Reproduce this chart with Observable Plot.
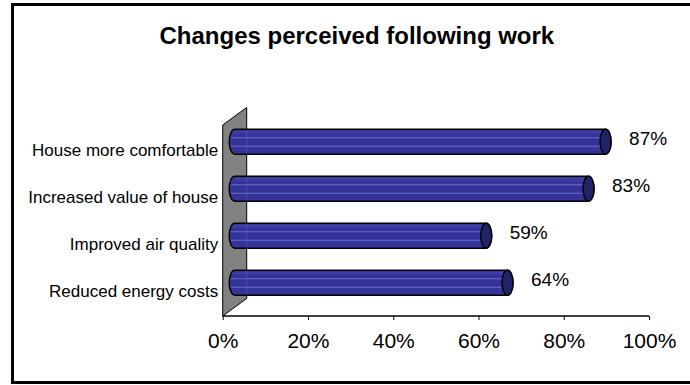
<!DOCTYPE html>
<html><head><meta charset="utf-8">
<script src="https://cdn.jsdelivr.net/npm/d3@7"></script>
<script src="https://cdn.jsdelivr.net/npm/@observablehq/plot@0.6"></script>
<style>
html,body{margin:0;padding:0;background:#fff;}
#wrap{position:relative;width:690px;height:385px;overflow:hidden;}
#border{position:absolute;left:11px;top:3px;width:700px;height:381px;border:3px solid #000;box-sizing:border-box;pointer-events:none;}
</style></head><body>
<div id="wrap"><div id="border"></div></div>
<script>
const title = "Changes perceived following work";
const categories = ["House more comfortable", "Increased value of house", "Improved air quality", "Reduced energy costs"];
const values = [0.87, 0.83, 0.59, 0.64];
const xTicks = [0, 0.2, 0.4, 0.6, 0.8, 1];

const data = categories.map((c, i) => ({category: c, value: values[i]}));
const depth = {dx: 24, dy: -17.5};

function scene(index, scales, vals, dimensions) {
  const {x, y} = scales;
  const {height, marginTop, marginBottom} = dimensions;
  const g = d3.create("svg:g");
  const x0 = x(0);
  const yTop = marginTop, yBot = height - marginBottom;
  // back wall
  g.append("polygon")
    .attr("points", [[x0, yBot], [x0, yTop], [x0 + depth.dx, yTop + depth.dy], [x0 + depth.dx, yBot + depth.dy]].map(p => p.join(",")).join(" "))
    .attr("fill", "#828282").attr("stroke", "#000").attr("stroke-width", 1);
  // axis line
  g.append("line").attr("x1", x0).attr("x2", x(1)).attr("y1", yBot).attr("y2", yBot)
    .attr("stroke", "#000").attr("stroke-width", 1.5);
  const bw = y.bandwidth ? y.bandwidth() : (yBot - yTop) / categories.length;
  const r = 12.5, rx = 5.5;
  for (const d of data) {
    const cy = y(d.category) + bw / 2 + depth.dy / 2;
    const cx0 = x0 + depth.dx / 2;
    const cx1 = x(d.value) + depth.dx / 2;
    const bar = g.append("g");
    const outline = `M${cx0},${cy - r}L${cx1},${cy - r}A${rx},${r} 0 0 1 ${cx1},${cy + r}L${cx0},${cy + r}A${rx},${r} 0 0 1 ${cx0},${cy - r}Z`;
    bar.append("path").attr("d", outline).attr("fill", "#333399");
    bar.append("line").attr("x1", cx0 - 3).attr("x2", cx1).attr("y1", cy - r + 3).attr("y2", cy - r + 3)
      .attr("stroke", "#3d3da6").attr("stroke-width", 3);
    for (const off of [-4, 4.5]) {
      bar.append("line").attr("x1", cx0 - 4).attr("x2", cx1).attr("y1", cy + off).attr("y2", cy + off)
        .attr("stroke", "#6e6ec4").attr("stroke-width", 1);
    }
    bar.append("line").attr("x1", x0 + depth.dx).attr("x2", x0 + depth.dx).attr("y1", cy - r + 1).attr("y2", cy + r - 1)
      .attr("stroke", "#5a5ab4").attr("stroke-width", 1).attr("opacity", 0.7);
    bar.append("path").attr("d", outline).attr("fill", "none").attr("stroke", "#000").attr("stroke-width", 1.4);
    bar.append("ellipse").attr("cx", cx1).attr("cy", cy).attr("rx", rx).attr("ry", r)
      .attr("fill", "#222266").attr("stroke", "#000").attr("stroke-width", 1.4);
  }
  return g.node();
}

const plot = Plot.plot({
  width: 690,
  height: 385,
  marginLeft: 222.7,
  marginRight: 41,
  marginTop: 125,
  marginBottom: 69,
  style: {fontFamily: "'Liberation Sans', Arial, sans-serif", background: "transparent", color: "#000"},
  x: {domain: [0, 1]},
  y: {type: "band", domain: categories, padding: 0},
  marks: [
    scene,
    Plot.axisX({ticks: xTicks, tickFormat: d => Math.round(d * 100) + "%", tickSize: 4, tickPadding: 13, fontSize: 21, label: null}),
    Plot.axisY({tickSize: 0, tickPadding: 5, fontSize: 17, label: null}),
    Plot.text(data, {x: "value", y: "category", text: d => Math.round(d.value * 100) + "%", dx: 35, dy: -12, textAnchor: "start", fontSize: 19}),
    Plot.text([title], {frameAnchor: "top", dx: -79.5, dy: -89.5, fontSize: 24, fontWeight: "bold", lineAnchor: "middle"})
  ]
});
document.getElementById("wrap").prepend(plot);
</script>
</body></html>
